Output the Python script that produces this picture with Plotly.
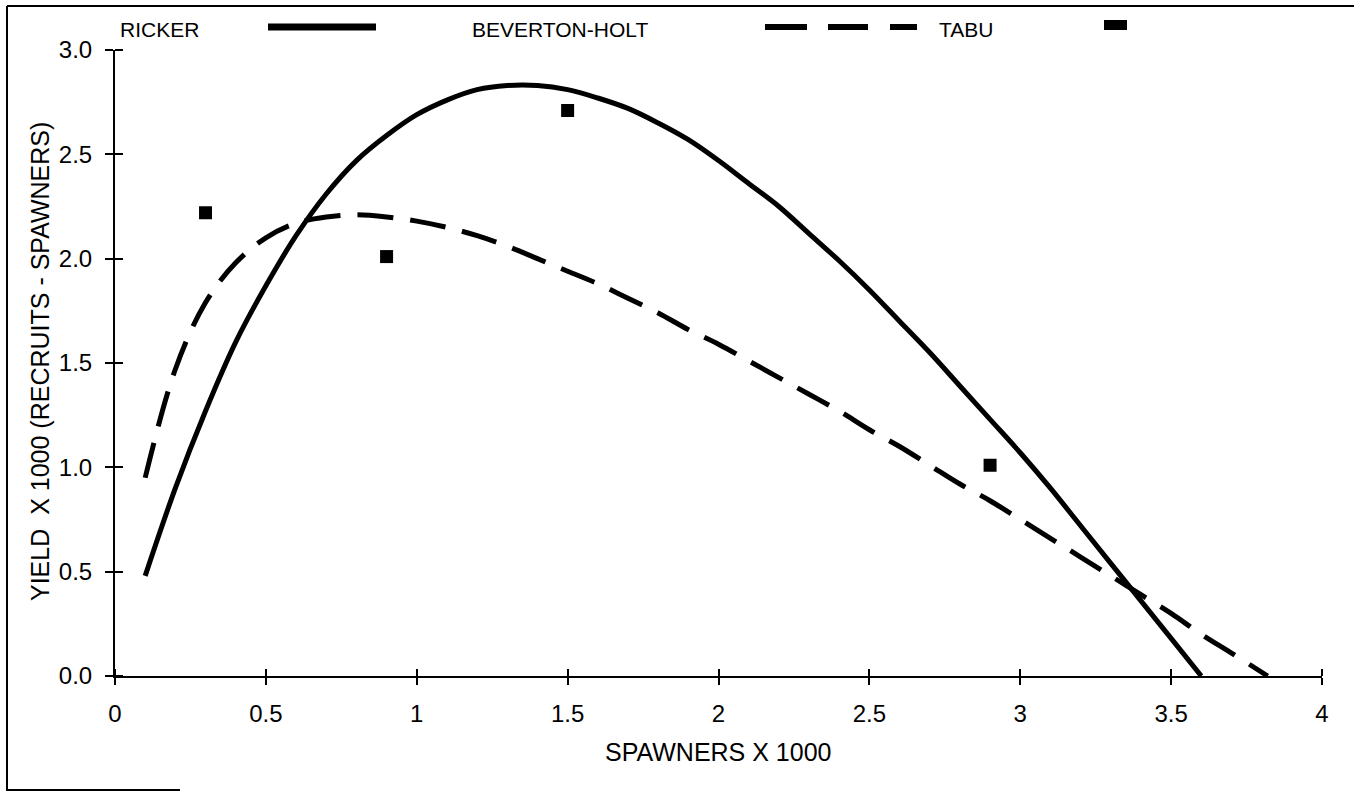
import plotly.graph_objects as go

# Spawners (thousands) at which the fitted curves are evaluated
ricker_x = [0.1, 0.2, 0.3, 0.4, 0.5, 0.6, 0.7, 0.8, 0.9, 1.0, 1.1, 1.2, 1.3, 1.4,
            1.5, 1.6, 1.7, 1.8, 1.9, 2.0, 2.1, 2.2, 2.3, 2.4, 2.5, 2.6, 2.7, 2.8,
            2.9, 3.0, 3.1, 3.2, 3.3, 3.4, 3.5, 3.6]
ricker_y = [0.48, 0.90, 1.27, 1.60, 1.87, 2.11, 2.31, 2.47, 2.59, 2.69, 2.76, 2.81,
            2.83, 2.83, 2.81, 2.77, 2.72, 2.65, 2.57, 2.47, 2.36, 2.25, 2.12, 1.99,
            1.85, 1.70, 1.55, 1.39, 1.23, 1.07, 0.90, 0.72, 0.54, 0.36, 0.18, 0.00]

bh_x = [0.1, 0.2, 0.3, 0.4, 0.5, 0.6, 0.7, 0.8, 0.9, 1.0, 1.1, 1.2, 1.3, 1.4, 1.5,
        1.6, 1.7, 1.8, 1.9, 2.0, 2.1, 2.2, 2.3, 2.4, 2.5, 2.6, 2.7, 2.8, 2.9, 3.0,
        3.1, 3.2, 3.3, 3.4, 3.5, 3.6, 3.7, 3.82]
bh_y = [0.95, 1.47, 1.79, 1.98, 2.10, 2.17, 2.20, 2.21, 2.20, 2.18, 2.15, 2.11,
        2.06, 2.00, 1.94, 1.88, 1.81, 1.74, 1.66, 1.59, 1.51, 1.43, 1.35, 1.27,
        1.18, 1.10, 1.01, 0.92, 0.84, 0.75, 0.66, 0.57, 0.48, 0.39, 0.30, 0.20,
        0.11, 0.00]

# Observed TABU points
tabu_x = [0.3, 0.9, 1.5, 2.9]
tabu_y = [2.22, 2.01, 2.71, 1.01]

x_ticks = [0, 0.5, 1, 1.5, 2, 2.5, 3, 3.5, 4]
x_tick_text = ["0", "0.5", "1", "1.5", "2", "2.5", "3", "3.5", "4"]
y_ticks = [0.0, 0.5, 1.0, 1.5, 2.0, 2.5, 3.0]
y_tick_text = ["0.0", "0.5", "1.0", "1.5", "2.0", "2.5", "3.0"]

W, H = 1354, 792
ML, MR, MT, MB = 115, 32, 50, 116
PW, PH = W - ML - MR, H - MT - MB
FONT = "Liberation Sans, Arial, sans-serif"
EPS = 1e-9  # keeps the inner tick marks from being merged with the outer ones


def px(xp):
    return (xp - ML) / PW


def py(yp):
    return (H - MB - yp) / PH


fig = go.Figure()
fig.add_trace(go.Scatter(x=ricker_x, y=ricker_y, mode="lines", name="RICKER",
                         line=dict(color="black", width=5, shape="spline")))
fig.add_trace(go.Scatter(x=bh_x, y=bh_y, mode="lines", name="BEVERTON-HOLT",
                         line=dict(color="black", width=5, dash="36px,17px",
                                   shape="spline")))
fig.add_trace(go.Scatter(x=tabu_x, y=tabu_y, mode="markers", name="TABU",
                         marker=dict(symbol="square", size=13, color="black")))

axis_font = dict(family=FONT, size=24, color="black")
fig.update_layout(
    width=W, height=H,
    margin=dict(l=ML, r=MR, t=MT, b=MB),
    paper_bgcolor="white", plot_bgcolor="white",
    showlegend=False,
    xaxis=dict(range=[0, 4], tickvals=x_ticks, ticktext=x_tick_text,
               ticks="outside", ticklen=7, tickwidth=1.5, tickcolor="black",
               minor=dict(tickvals=[v + EPS for v in x_ticks], ticks="inside",
                          ticklen=7, tickwidth=1.5, tickcolor="black",
                          showgrid=False),
               showline=True, linecolor="black", linewidth=2,
               showgrid=False, zeroline=False, tickfont=axis_font,
               ticklabelstandoff=8),
    yaxis=dict(range=[0, 3], tickvals=y_ticks, ticktext=y_tick_text,
               ticks="outside", ticklen=8, tickwidth=1.5, tickcolor="black",
               minor=dict(tickvals=[v + EPS for v in y_ticks], ticks="inside",
                          ticklen=8, tickwidth=1.5, tickcolor="black",
                          showgrid=False),
               showline=True, linecolor="black", linewidth=2,
               showgrid=False, zeroline=False, tickfont=axis_font,
               ticklabelstandoff=8),
)

# axis titles
title_font = dict(family=FONT, size=25, color="black")
fig.add_annotation(text="SPAWNERS X 1000", xref="paper", yref="paper",
                   x=px(718), y=py(752), xanchor="center", yanchor="middle",
                   showarrow=False, font=title_font)
fig.add_annotation(text="YIELD  X 1000 (RECRUITS - SPAWNERS)", xref="paper",
                   yref="paper", x=px(40), y=py(362), xanchor="center",
                   yanchor="middle", textangle=-90, showarrow=False,
                   font=title_font)

# legend row across the top
leg_font = dict(family=FONT, size=21, color="black")
for label, xp in [("RICKER", 118), ("BEVERTON-HOLT", 470), ("TABU", 937)]:
    fig.add_annotation(text=label, xref="paper", yref="paper", x=px(xp), y=py(29),
                       xanchor="left", yanchor="middle", showarrow=False,
                       font=leg_font)
fig.add_shape(type="line", xref="paper", yref="paper", x0=px(268), x1=px(376),
              y0=py(27), y1=py(27), line=dict(color="black", width=7))
for x0, x1 in [(765, 807), (828, 868), (890, 917)]:
    fig.add_shape(type="line", xref="paper", yref="paper", x0=px(x0), x1=px(x1),
                  y0=py(27), y1=py(27), line=dict(color="black", width=6))
fig.add_shape(type="rect", xref="paper", yref="paper", x0=px(1104), x1=px(1127),
              y0=py(20), y1=py(30), fillcolor="black", line=dict(width=0))

# frame around the figure
fig.add_shape(type="line", xref="paper", yref="paper", x0=px(7), x1=px(1360),
              y0=py(6), y1=py(6), line=dict(color="black", width=2))
fig.add_shape(type="line", xref="paper", yref="paper", x0=px(7), x1=px(7),
              y0=py(6), y1=py(791), line=dict(color="black", width=2))
fig.add_shape(type="line", xref="paper", yref="paper", x0=px(7), x1=px(180),
              y0=py(790), y1=py(790), line=dict(color="black", width=2))

fig.write_html("out.html")
